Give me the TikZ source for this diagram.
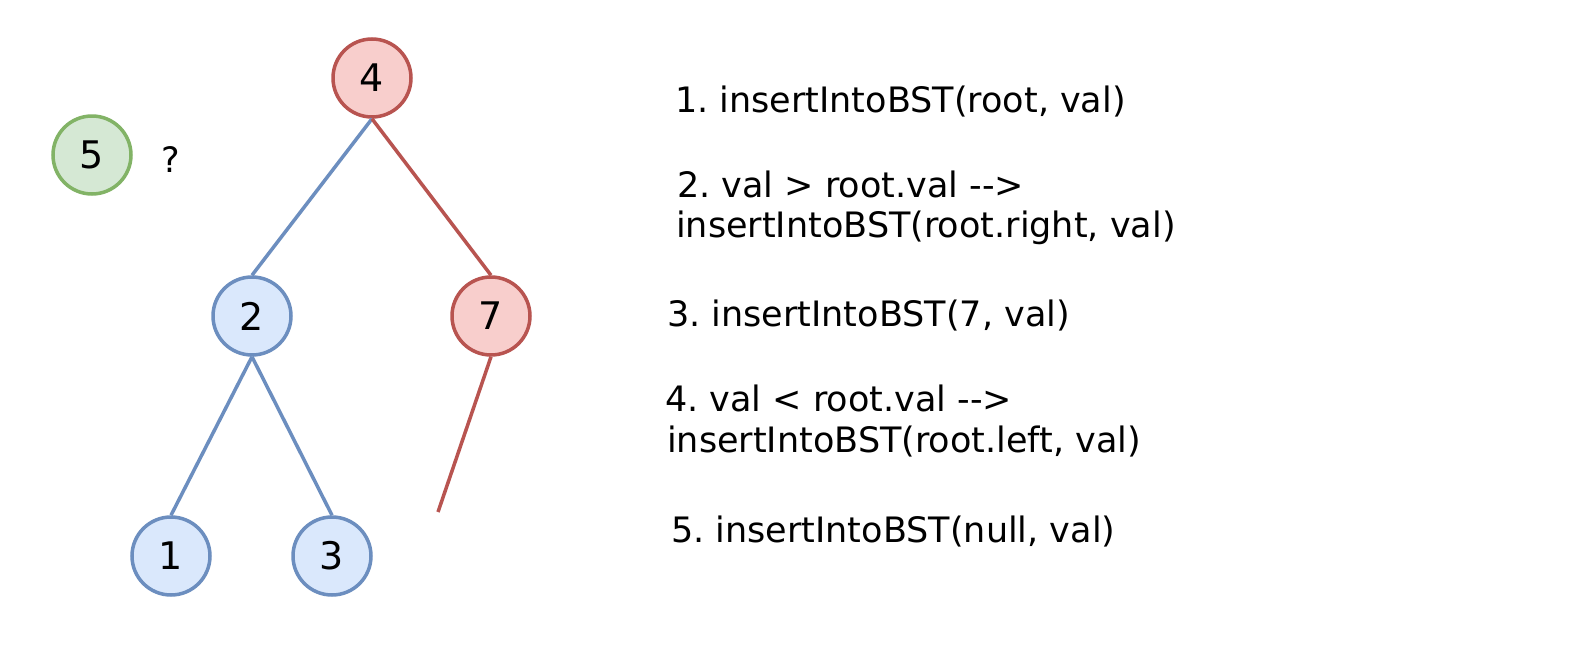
\documentclass[tikz,border=0pt]{standalone}
\usepackage{fontspec}
\setmainfont{DejaVu Sans}[Ligatures=NoCommon]
\frenchspacing
\definecolor{redS}{HTML}{B85450}
\definecolor{redF}{HTML}{F8CECC}
\definecolor{blueS}{HTML}{6C8EBF}
\definecolor{blueF}{HTML}{DAE8FC}
\definecolor{greenS}{HTML}{82B366}
\definecolor{greenF}{HTML}{D5E8D4}
\begin{document}
\begin{tikzpicture}[x=1pt,y=-1pt,
  tnode/.style={circle,line width=3.5pt,minimum size=78pt,inner sep=0pt,font=\fontsize{38}{40}\selectfont},
  rednode/.style={tnode,draw=redS,fill=redF},
  bluenode/.style={tnode,draw=blueS,fill=blueF},
  greennode/.style={tnode,draw=greenS,fill=greenF},
  redline/.style={draw=redS,line width=3.5pt},
  blueline/.style={draw=blueS,line width=3.5pt},
  txt/.style={anchor=base west,inner sep=0pt,font=\fontsize{35}{40}\selectfont}]
\useasboundingbox[fill=white] (0,0) rectangle (1580,664);
\node[rednode] (n4) at (372,78) {4};
\node[greennode] (n5) at (92,155) {5};
\node[bluenode] (n2) at (252,316) {2};
\node[rednode] (n7) at (491,316) {7};
\node[bluenode] (n1) at (171,556) {1};
\node[bluenode] (n3) at (332,556) {3};
\node[txt] (q) at (161,172) {?};
\coordinate (free) at (438,512);
\draw[blueline] (n4.south) -- (n2.north);
\draw[redline] (n4.south) -- (n7.north);
\draw[blueline] (n2.south) -- (n1.north);
\draw[blueline] (n2.south) -- (n3.north);
\draw[redline] (n7.south) -- (free);
\node[txt] (t1) at (675,112) {1. insertIntoBST(root, val)};
\node[txt] (t2a) at (677,197) {2. val > root.val {-}{-}>};
\node[txt] (t2b) at (676,237) {insertIntoBST(root.right, val)};
\node[txt] (t3) at (667,326) {3. insertIntoBST(7, val)};
\node[txt] (t4a) at (665,411) {4. val < root.val {-}{-}>};
\node[txt] (t4b) at (667,452) {insertIntoBST(root.left, val)};
\node[txt] (t5) at (671,542) {5. insertIntoBST(null, val)};
\end{tikzpicture}
\end{document}
